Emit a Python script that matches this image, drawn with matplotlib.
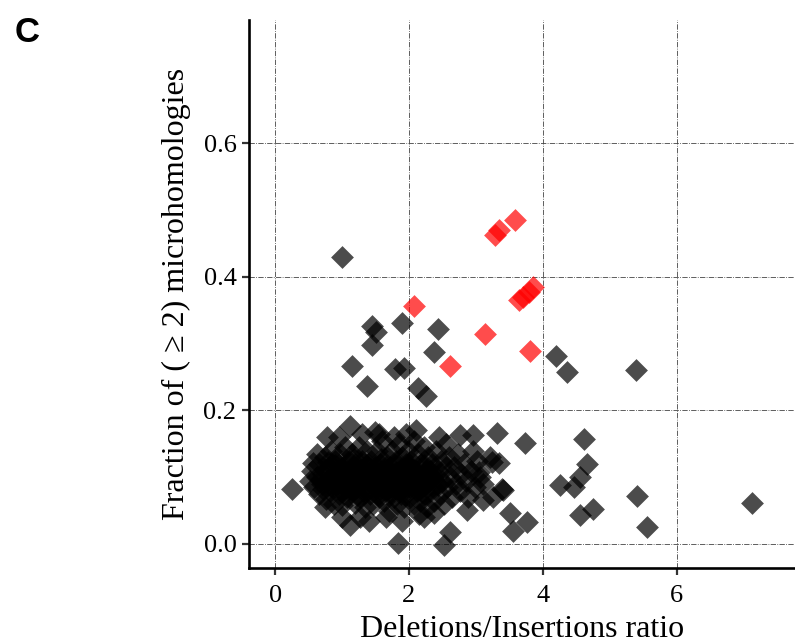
import matplotlib
import matplotlib.pyplot as plt

matplotlib.use('Agg')

# dense cluster + scattered black points (Deletions/Insertions ratio, fraction)
black_x = [
    0.52, 0.55, 0.58, 0.62, 0.65, 0.66, 0.70, 0.72, 0.75, 0.76, 0.78, 0.80,
    0.82, 0.84, 0.86, 0.88, 0.90, 0.92, 0.94, 0.95, 0.97, 0.99, 1.00, 1.02,
    1.04, 1.05, 1.07, 1.08, 1.10, 1.10,
    1.12, 1.14, 1.15, 1.17, 1.19, 1.20, 1.22, 1.24, 1.25, 1.27, 1.28, 1.30,
    1.32, 1.33, 1.35, 1.37, 1.38, 1.40,
    1.42, 1.44, 1.45, 1.47, 1.49, 1.50, 1.52, 1.54, 1.55, 1.57, 1.59, 1.60,
    1.62, 1.63, 1.65, 1.67, 1.68, 1.70,
    1.72, 1.74, 1.75, 1.77, 1.78, 1.80, 1.82, 1.83, 1.85, 1.87, 1.88, 1.90,
    1.92, 1.93, 1.95, 1.97, 1.98, 2.00,
    2.02, 2.03, 2.05, 2.07, 2.08, 2.10, 2.12, 2.13, 2.15, 2.17, 2.18, 2.20,
    2.22, 2.24, 2.25, 2.27, 2.29, 2.30,
    2.32, 2.34, 2.36, 2.38, 2.40, 2.42, 2.44, 2.46, 2.48, 2.50, 2.53, 2.55,
    2.57, 2.60, 2.62,
    2.65, 2.68, 2.70, 2.73, 2.76, 2.78, 2.82, 2.85, 2.88, 2.92, 2.95, 2.98,
    3.02, 3.06, 3.10,
    0.95, 0.62, 1.30, 1.55, 1.78, 1.95, 2.10, 2.45, 2.55, 1.00, 1.40, 1.65,
    1.90, 2.15,
    0.26, 0.57, 0.75, 0.77, 1.12, 1.12, 1.27, 1.50,
    1.84, 2.22, 2.37, 2.52, 2.62, 2.77, 2.87, 2.96, 3.04, 3.11, 3.21, 3.24,
    3.26, 3.31, 3.34, 3.39, 3.41, 3.51, 3.56, 3.74, 3.76,
    4.25, 4.46, 4.56, 4.56, 4.61, 4.66, 4.75, 5.40, 5.56, 7.13,
    1.00, 1.445, 1.51, 1.445, 1.90, 2.44, 2.37, 1.155, 1.37, 1.79, 1.93,
    2.14, 2.25, 4.20, 4.36, 5.39,
    # extra core points
    0.68, 0.74, 0.83, 0.89, 0.93, 0.98, 1.03, 1.06, 1.11, 1.16, 1.21, 1.26,
    1.31, 1.36, 1.41, 1.46, 1.51, 1.56, 1.61, 1.66, 1.71, 1.76, 1.81, 1.86,
    1.91, 1.96, 2.01, 2.06, 2.11, 2.16, 2.21, 2.26, 2.31, 2.36, 0.71, 0.87,
    1.01, 1.13, 1.23, 1.34, 1.43, 1.53, 1.64, 1.73, 1.84, 1.94, 2.04, 2.14,
    2.23, 2.33, 2.43, 0.79, 0.96, 1.09, 1.18, 1.29, 1.39, 1.48, 1.58, 1.69,
    1.79, 1.89, 1.99, 2.09, 2.19, 2.28,
]
black_y = [
    0.095, 0.110, 0.085, 0.100, 0.120, 0.075, 0.090, 0.105, 0.130, 0.068, 0.095, 0.115,
    0.080, 0.140, 0.100, 0.060, 0.125, 0.090, 0.110, 0.075, 0.135, 0.095, 0.058, 0.115,
    0.085, 0.145, 0.100, 0.070, 0.125, 0.090,
    0.110, 0.078, 0.135, 0.095, 0.062, 0.120, 0.085, 0.105, 0.145, 0.070, 0.095, 0.125,
    0.080, 0.110, 0.055, 0.140, 0.090, 0.105,
    0.075, 0.125, 0.095, 0.060, 0.115, 0.085, 0.140, 0.100, 0.070, 0.120, 0.090, 0.155,
    0.065, 0.110, 0.080, 0.130, 0.095, 0.050,
    0.115, 0.085, 0.140, 0.070, 0.100, 0.125, 0.060, 0.090, 0.150, 0.110, 0.075, 0.130,
    0.095, 0.055, 0.120, 0.085, 0.140, 0.100,
    0.070, 0.125, 0.090, 0.155, 0.060, 0.110, 0.080, 0.135, 0.100, 0.065, 0.120, 0.090,
    0.145, 0.075, 0.110, 0.055, 0.130, 0.095,
    0.080, 0.120, 0.100, 0.065, 0.140, 0.090, 0.110, 0.075, 0.125, 0.095, 0.060, 0.115,
    0.085, 0.130, 0.100,
    0.070, 0.115, 0.090, 0.135, 0.080, 0.105, 0.120, 0.095, 0.070, 0.110, 0.140, 0.085,
    0.125, 0.100, 0.090,
    0.160, 0.135, 0.165, 0.165, 0.160, 0.165, 0.170, 0.160, 0.150, 0.040, 0.035, 0.040,
    0.035, 0.045,
    0.083, 0.121, 0.056, 0.161, 0.176, 0.028, 0.041, 0.168,
    0.001, 0.041, 0.046, -0.002, 0.018, 0.163, 0.051, 0.163, 0.108, 0.066, 0.131, 0.123,
    0.071, 0.166, 0.121, 0.083, 0.081, 0.046, 0.020, 0.151, 0.033,
    0.089, 0.086, 0.101, 0.043, 0.157, 0.120, 0.053, 0.072, 0.025, 0.061,
    0.430, 0.326, 0.318, 0.298, 0.331, 0.322, 0.287, 0.266, 0.236, 0.262, 0.263,
    0.233, 0.222, 0.281, 0.257, 0.260,
    0.098, 0.112, 0.087, 0.118, 0.102, 0.080, 0.108, 0.093, 0.083, 0.115, 0.100, 0.088,
    0.105, 0.078, 0.098, 0.110, 0.092, 0.083, 0.101, 0.115, 0.087, 0.095, 0.108, 0.080,
    0.103, 0.092, 0.085, 0.113, 0.097, 0.082, 0.104, 0.090, 0.110, 0.097, 0.082, 0.092,
    0.080, 0.100, 0.073, 0.120, 0.098, 0.073, 0.104, 0.078, 0.118, 0.074, 0.112, 0.087,
    0.118, 0.105, 0.088, 0.123, 0.118, 0.108, 0.127, 0.100, 0.120, 0.108, 0.128, 0.110,
    0.083, 0.098, 0.115, 0.095, 0.078, 0.105,
]

# highlighted samples
red_x = [2.08, 2.62, 3.14, 3.29, 3.34, 3.59, 3.64, 3.71, 3.79, 3.86, 3.81]
red_y = [0.356, 0.267, 0.314, 0.463, 0.470, 0.486, 0.366, 0.370, 0.378, 0.385, 0.289]

x_ticks = [0, 2, 4, 6]
y_ticks = [0.0, 0.2, 0.4, 0.6]
y_ticklabels = ['0.0', '0.2', '0.4', '0.6']

serif = ['Liberation Serif', 'DejaVu Serif']

fig = plt.figure(figsize=(7.95, 6.44), dpi=100)
ax = fig.add_axes([0.3132, 0.118, 0.687, 0.851])

ax.scatter(black_x, black_y, marker='D', s=135, color='black', alpha=0.7,
           linewidths=0, zorder=3)
ax.scatter(red_x, red_y, marker='D', s=135, color='red', alpha=0.7,
           linewidths=0, zorder=3)

ax.set_xlim(-0.39, 7.77)
ax.set_ylim(-0.036, 0.785)
ax.set_xticks(x_ticks)
ax.set_yticks(y_ticks)
ax.set_yticklabels(y_ticklabels)

ax.grid(True, linestyle='-.', color='#444444', linewidth=0.6, zorder=0)
ax.set_axisbelow(True)

for side in ['top', 'right']:
    ax.spines[side].set_visible(False)
for side in ['left', 'bottom']:
    ax.spines[side].set_linewidth(1.9)
    ax.spines[side].set_color('black')

ax.tick_params(axis='both', length=5, width=1.6, color='#333333',
               labelsize=19, pad=4)
ax.tick_params(axis='x', pad=7)
for lbl in ax.get_xticklabels() + ax.get_yticklabels():
    lbl.set_family(serif)

ax.set_xlabel('Deletions/Insertions ratio', fontsize=23, family=serif,
              labelpad=6)
ax.set_ylabel('Fraction of ( \u2265 2) microhomologies', fontsize=23,
              family=serif, labelpad=9)

fig.text(0.018, 0.935, 'C', fontsize=25, fontweight='bold',
         family=['Liberation Sans', 'DejaVu Sans'])

fig.savefig('out.png', dpi=100)
